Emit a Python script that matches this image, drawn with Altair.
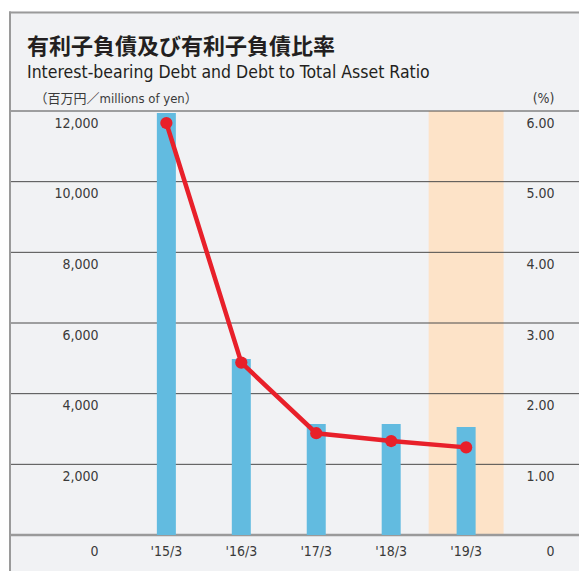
import altair as alt
import pandas as pd

years = ["'15/3", "'16/3", "'17/3", "'18/3", "'19/3"]
debt = [11940, 4980, 3140, 3140, 3060]          # millions of yen
ratio = [5.83, 2.44, 1.44, 1.33, 1.24]          # %
highlight_year = ["'19/3"]
left_ticks = [0, 2000, 4000, 6000, 8000, 10000, 12000]
right_ticks = [0, 1, 2, 3, 4, 5, 6]

NUM_FONT = "DejaVu Sans Condensed, Liberation Sans, sans-serif"
JP_FONT = "DejaVu Sans Condensed, Noto Sans CJK JP, sans-serif"
TEXT_C = "#3a3a3a"

W, H = 568, 424
PAD_B = 36

df = pd.DataFrame({"year": years, "debt": debt, "ratio": ratio})
band_df = pd.DataFrame({"year": highlight_year, "lo": [0], "hi": [12000]})
grid_df = pd.DataFrame({"v": left_ticks})

x_enc = alt.X(
    "year:N",
    title=None,
    sort=years,
    scale=alt.Scale(domain=years, paddingInner=0, paddingOuter=0, range=[117.9, 492.6]),
    axis=alt.Axis(
        domain=False, ticks=False, grid=False, labelAngle=0,
        labelFont=NUM_FONT, labelFontSize=14, labelColor=TEXT_C,
        labelPadding=9, labelBaseline="top",
    ),
)

left_scale = alt.Scale(domain=[0, 12000], nice=False, zero=True)
right_scale = alt.Scale(domain=[0, 6], nice=False, zero=True)

label_offset = {"condition": {"test": "datum.value == 0", "value": 9}, "value": 5}

left_axis = alt.Axis(
    orient="left", values=left_ticks, labelExpr="format(datum.value, ',')",
    grid=False, domain=False,
    ticks=False, tickSize=0, labelAlign="right", labelPadding=-87,
    labelBaseline="top", labelOffset=label_offset,
    labelFont=NUM_FONT, labelFontSize=14, labelColor=TEXT_C,
    title="（百万円／millions of yen）", titleAngle=0, titleAlign="left",
    titleBaseline="middle", titleX=23, titleY=-13, titleFont=JP_FONT,
    titleFontSize=13, titleFontWeight="normal", titleColor=TEXT_C,
)

right_axis = alt.Axis(
    orient="right", values=right_ticks,
    labelExpr="datum.value == 0 ? '0' : format(datum.value, '.2f')",
    grid=False, domain=False, ticks=False, tickSize=0,
    labelAlign="right", labelPadding=-25, labelBaseline="top",
    labelOffset=label_offset,
    labelFont=NUM_FONT, labelFontSize=14, labelColor=TEXT_C,
    title="(%)", titleAngle=0, titleAlign="right", titleBaseline="middle",
    titleX=-25, titleY=-13, titleFont=NUM_FONT, titleFontSize=14,
    titleFontWeight="normal", titleColor=TEXT_C,
)

# decorations: white margin strips and border of the panel
deco = alt.Data(values=[{}])
strip_top = alt.Chart(deco).mark_rect(color="white").encode(
    x=alt.value(-3), x2=alt.value(W), y=alt.value(-103), y2=alt.value(-99.5)
)
strip_left = alt.Chart(deco).mark_rect(color="white").encode(
    x=alt.value(-3), x2=alt.value(-2), y=alt.value(-103), y2=alt.value(H + PAD_B)
)
border_top = alt.Chart(deco).mark_rule(color="#9a9a9a", strokeWidth=2).encode(
    x=alt.value(-2), x2=alt.value(W), y=alt.value(-98.5)
)
border_left = alt.Chart(deco).mark_rule(color="#9a9a9a", strokeWidth=2).encode(
    x=alt.value(-1), y=alt.value(-99.5), y2=alt.value(H + PAD_B)
)

band = alt.Chart(band_df).mark_rect(color="#fde3c8").encode(
    x=x_enc,
    y=alt.Y("lo:Q", scale=left_scale, axis=left_axis),
    y2="hi:Q",
)

grid = alt.Chart(grid_df).mark_rule().encode(
    y=alt.Y("v:Q", scale=left_scale, axis=left_axis),
    color=alt.condition(alt.datum.v == 0, alt.value("#9a9a9a"), alt.value("#4a4a4a")),
    strokeWidth=alt.condition(alt.datum.v == 0, alt.value(2.5), alt.value(1)),
)

bars = alt.Chart(df).mark_bar(size=19, color="#62bbe0").encode(
    x=x_enc,
    y=alt.Y("debt:Q", scale=left_scale, axis=left_axis),
)

line = alt.Chart(df).mark_line(color="#e8202a", strokeWidth=4.5).encode(
    x=x_enc,
    y=alt.Y("ratio:Q", scale=right_scale, axis=right_axis),
)

points = alt.Chart(df).mark_circle(color="#e8202a", size=150, opacity=1).encode(
    x=x_enc,
    y=alt.Y("ratio:Q", scale=right_scale, axis=right_axis),
)

left_group = alt.layer(strip_top, strip_left, border_top, border_left, band, grid, bars)
right_group = alt.layer(line, points)

chart = (
    alt.layer(left_group, right_group)
    .resolve_scale(y="independent")
    .properties(
        width=W,
        height=H,
        background="#f1f2f4",
        autosize=alt.AutoSizeParams(type="none"),
        padding={"left": 3, "top": 103, "right": 0, "bottom": PAD_B},
        title=alt.TitleParams(
            text="有利子負債及び有利子負債比率",
            subtitle="Interest-bearing Debt and Debt to Total Asset Ratio",
            anchor="start",
            dx=19,
            dy=74,
            font="Noto Sans CJK JP",
            fontSize=22,
            fontWeight="bold",
            color="#231f20",
            subtitleFont=NUM_FONT,
            subtitleFontSize=17.5,
            subtitleColor="#231f20",
            subtitlePadding=5,
            offset=0,
        ),
    )
    .configure_view(strokeWidth=0)
)

chart.save("out.html", embed_options={"renderer": "svg", "actions": False})
